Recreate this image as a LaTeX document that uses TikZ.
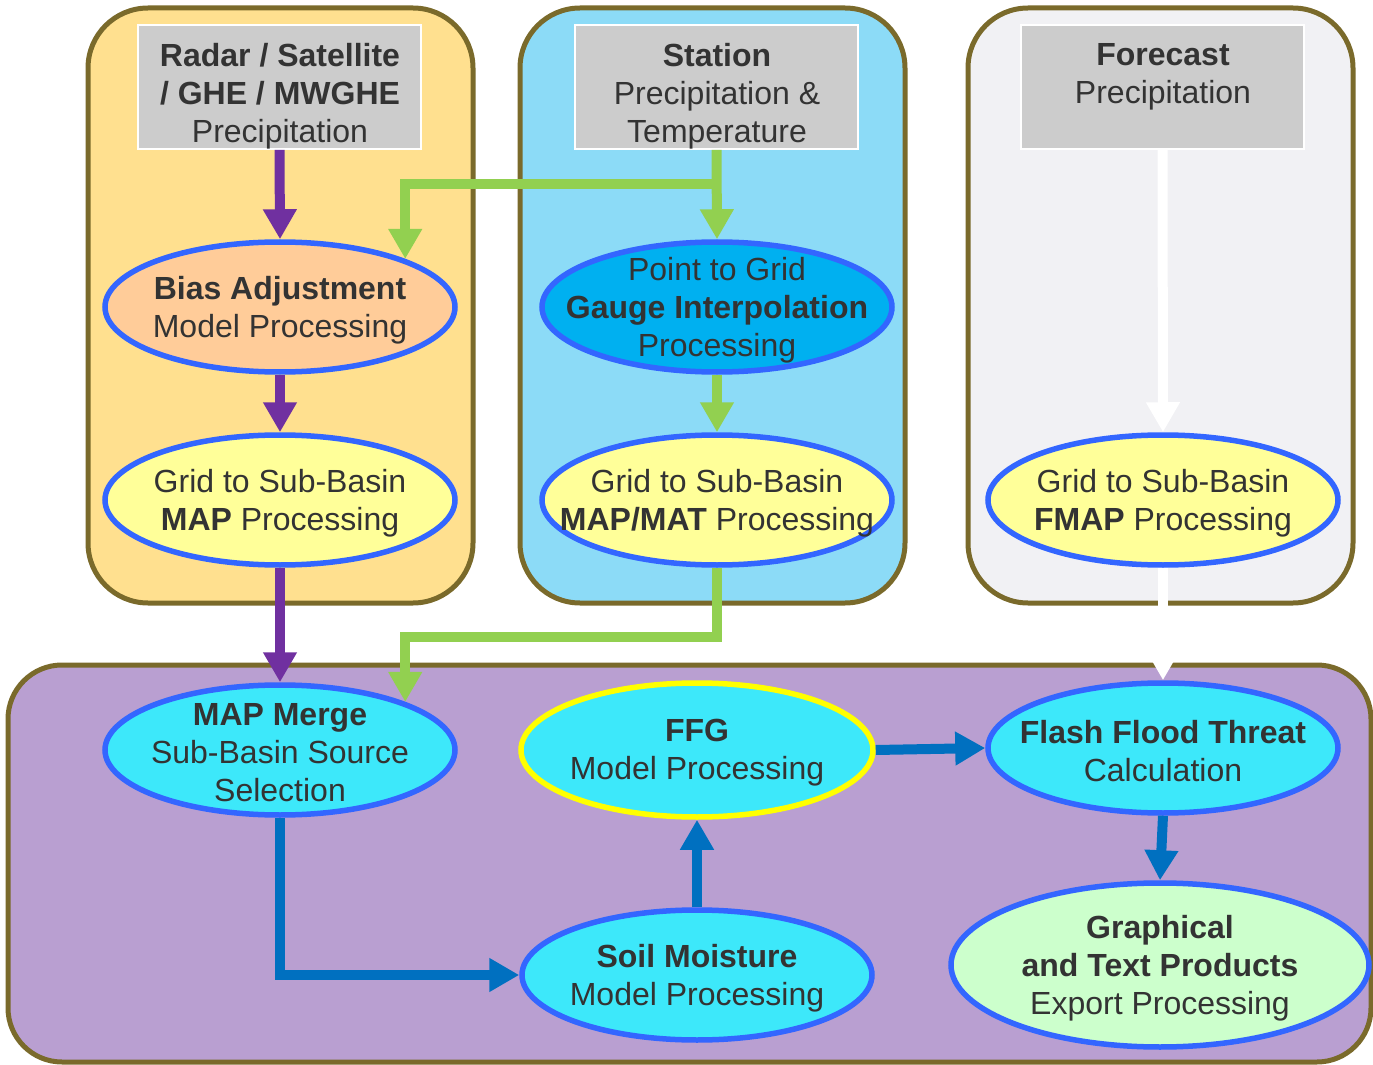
\documentclass[tikz,border=0pt]{standalone}
\usepackage{fontspec}
\setmainfont{Liberation Sans}
\usetikzlibrary{shapes.geometric,arrows.meta}

\definecolor{ink}{HTML}{333333}
\definecolor{rim}{HTML}{7A6A2B}
\definecolor{panelgold}{HTML}{FFE08F}
\definecolor{panelsky}{HTML}{8CDBF7}
\definecolor{panelmist}{HTML}{F1F1F4}
\definecolor{panellilac}{HTML}{B99FD1}
\definecolor{boxgrey}{HTML}{CCCCCC}
\definecolor{peach}{HTML}{FFCC99}
\definecolor{paleyellow}{HTML}{FFFF99}
\definecolor{deepsky}{HTML}{00B0F0}
\definecolor{aqua}{HTML}{3DE8FA}
\definecolor{mint}{HTML}{CCFFCC}
\definecolor{ringblue}{HTML}{3366FF}
\definecolor{ringyellow}{HTML}{FFFF00}
\definecolor{plum}{HTML}{7030A0}
\definecolor{leaf}{HTML}{92D050}
\definecolor{ocean}{HTML}{0070C0}

\begin{document}
\begin{tikzpicture}[x=0.5pt,y=-0.5pt,
  panel/.style={draw=rim, line width=2.5pt, rounded corners=30pt},
  srcbox/.style={rectangle, draw=white, line width=0.8pt, fill=boxgrey,
    minimum width=141.5pt, minimum height=62pt, inner sep=0pt},
  txt/.style={text=ink, align=center, font=\fontsize{16}{19}\selectfont, inner sep=0pt},
  proc/.style={ellipse, draw=ringblue, line width=2.75pt,
    minimum width=175pt, minimum height=65pt, inner sep=0pt},
  flow/.style={line width=5pt, -{Triangle[width=16pt,length=15pt]}},
]
\useasboundingbox (0,0) rectangle (1373,1065);

% background panels
\draw[panel, fill=panelgold] (88,8) rectangle (473,603);
\draw[panel, fill=panelsky] (520,8) rectangle (905,603);
\draw[panel, fill=panelmist] (968,8) rectangle (1353,603);
\draw[panel, fill=panellilac, rounded corners=27pt] (8,665) rectangle (1371,1062);

% source boxes
\node[srcbox] (rad) at (279.5,87) {};
\node[srcbox] (sta) at (716.5,87) {};
\node[srcbox] (fc) at (1162.5,87) {};
\node[txt] (radtxt) at (280,96) {\textbf{Radar / Satellite}\\\textbf{/ GHE / MWGHE}\\Precipitation};
\node[txt] (statxt) at (717,96) {\textbf{Station}\\Precipitation \&\\Temperature};
\node[txt] (fctxt) at (1163,77) {\textbf{Forecast}\\Precipitation};

% processing steps (outlines)
\node[proc, fill=peach] (bias) at (280,307) {};
\node[proc, fill=paleyellow] (map) at (280,500) {};
\node[proc, fill=deepsky] (ptg) at (717,307) {};
\node[proc, fill=paleyellow] (mapmat) at (717,500) {};
\node[proc, fill=paleyellow] (fmap) at (1163,500) {};
\node[proc, fill=aqua] (mm) at (280,750) {};
\node[proc, fill=aqua, draw=ringyellow, minimum width=176pt, minimum height=67pt] (ffg) at (697,750) {};
\node[proc, fill=aqua] (flash) at (1163,748) {};
\node[proc, fill=aqua] (soil) at (697,975) {};
\node[proc, fill=mint, minimum width=209pt, minimum height=82pt] (prod) at (1160,965) {};

% processing steps (labels)
\node[txt] (biastxt) at ([yshift=-1.5pt]bias) {\textbf{Bias Adjustment}\\Model Processing};
\node[txt] (maptxt) at ([yshift=-1.5pt]map) {Grid to Sub-Basin\\\textbf{MAP} Processing};
\node[txt] (ptgtxt) at ([yshift=-1.5pt]ptg) {Point to Grid\\\textbf{Gauge Interpolation}\\Processing};
\node[txt] (mapmattxt) at ([yshift=-1.5pt]mapmat) {Grid to Sub-Basin\\\textbf{MAP/MAT} Processing};
\node[txt] (fmaptxt) at ([yshift=-1.5pt]fmap) {Grid to Sub-Basin\\\textbf{FMAP} Processing};
\node[txt] (mmtxt) at ([yshift=-1.5pt]mm) {\textbf{MAP Merge}\\Sub-Basin Source\\Selection};
\node[txt] (ffgtxt) at ([yshift=-1.5pt]ffg) {\textbf{FFG}\\Model Processing};
\node[txt] (flashtxt) at ([yshift=-1.5pt]flash) {\textbf{Flash Flood Threat}\\Calculation};
\node[txt] (soiltxt) at ([yshift=-1.5pt]soil) {\textbf{Soil Moisture}\\Model Processing};
\node[txt] (prodtxt) at ([yshift=-1.5pt]prod) {\textbf{Graphical}\\\textbf{and Text Products}\\Export Processing};

% remotely sensed precipitation chain
\draw[flow, plum] (rad.south) -- (bias.north);
\draw[flow, plum] (bias.south) -- (map.north);
\draw[flow, plum] (map.south) -- (mm.north);

% station chain
\coordinate (gsplit) at (717,184);
\draw[flow, leaf] (sta.south) -- (ptg.north);
\draw[flow, leaf] (gsplit) -| (bias.21);
\draw[flow, leaf] (ptg.south) -- (mapmat.north);
\draw[flow, leaf] (mapmat.south) -- ++(0,69) -| (mm.21);

% forecast chain
\draw[flow, white] (fc.south) -- (fmap.north);
\draw[flow, white] (fmap.south) -- (flash.north);

% model chain
\draw[flow, ocean] (mm.south) |- (soil.west);
\draw[flow, ocean] (soil.north) -- (ffg.south);
\draw[flow, ocean] (ffg.east) -- (flash.west);
\draw[flow, ocean] (flash.south) -- (prod.north);
\end{tikzpicture}
\end{document}
